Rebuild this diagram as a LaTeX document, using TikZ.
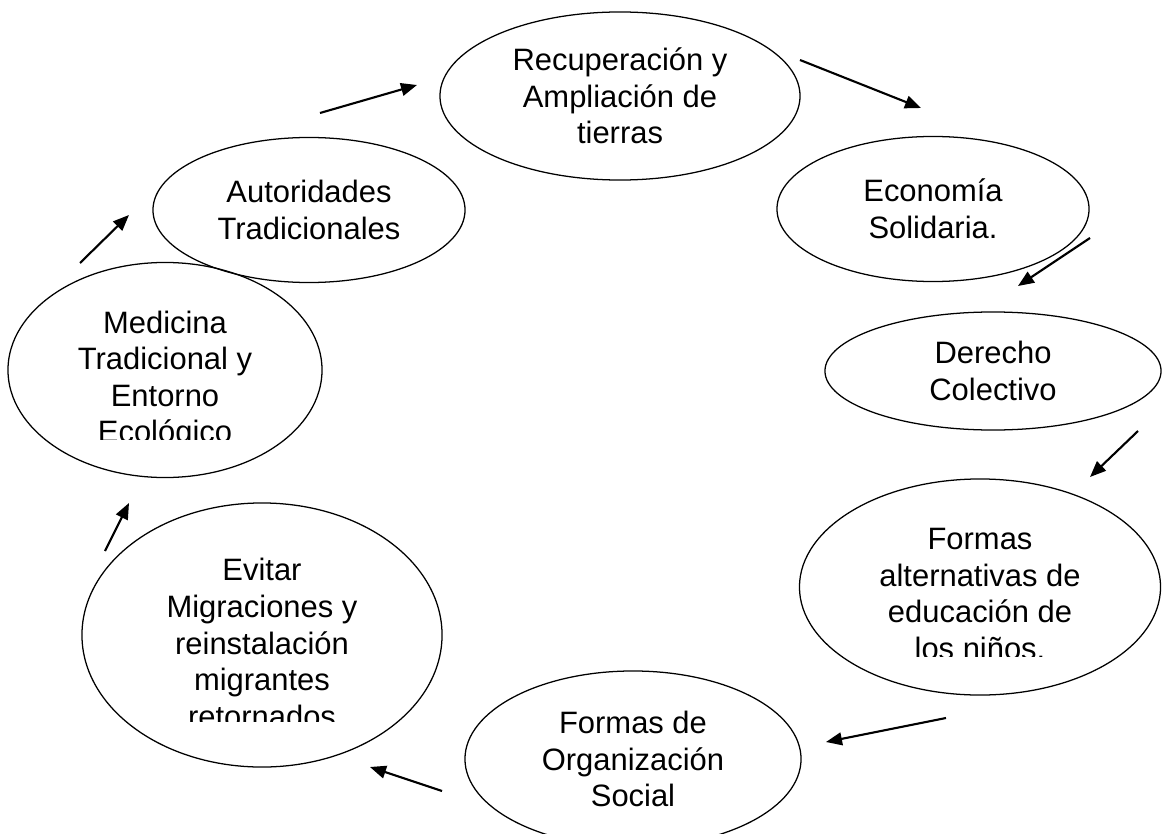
\documentclass[tikz,border=0pt]{standalone}
\usepackage{fontspec}
\setmainfont{Liberation Sans}
\usetikzlibrary{arrows.meta, shapes.geometric, positioning, calc}
\tikzset{
  elip/.style={draw, ellipse, line width=0.9pt, inner sep=0pt, align=center, font=\fontsize{22}{26}\selectfont},
  txt/.style={inner sep=0pt, align=center, font=\fontsize{22}{26}\selectfont},
  flecha/.style={line width=1.5pt, -{Triangle[length=0.4cm,width=0.32cm]}}
}
\begin{document}
\begin{tikzpicture}[x=0.025cm, y=-0.025cm]
			\useasboundingbox (0,0) rectangle (1163,834);
			\node[elip, minimum width=9cm, minimum height=4.2cm] (rec) at (620,96) {Recuperación y\\Ampliación de\\tierras};
			\node[elip, minimum width=7.8cm, minimum height=3.625cm] (eco) at (933,209) {Economía\\Solidaria.};
			\node[elip, minimum width=8.4cm, minimum height=2.95cm] (der) at (993,371) {Derecho\\Colectivo};
			\node[elip, minimum width=9.025cm, minimum height=5.4cm] (alt) at (980,587) {};
			\node[elip, minimum width=8.4cm, minimum height=4.4cm] (org) at (633,759) {Formas de\\Organización\\Social};
			\node[elip, minimum width=9cm, minimum height=6.6cm] (evi) at (262,635) {};
			\node[elip, minimum width=7.85cm, minimum height=5.375cm] (med) at (165,370) {};
			\node[elip, minimum width=7.8cm, minimum height=3.625cm] (aut) at (309,210) {Autoridades\\Tradicionales};
			\begin{scope}
				\clip (820,490) rectangle (1140,656);
				\node[txt] (altt) at (980,594) {Formas\\alternativas de\\educación de\\los niños.};
			\end{scope}
			\begin{scope}
				\clip (100,520) rectangle (420,721);
				\node[txt] (evit) at (262,643) {Evitar\\Migraciones y\\reinstalación\\migrantes\\retornados};
			\end{scope}
			\begin{scope}
				\clip (20,290) rectangle (310,439);
				\node[txt] (medt) at (165,380) {Medicina\\Tradicional y\\Entorno\\Ecológico};
			\end{scope}
			\coordinate (f1a) at (80,263);   \coordinate (f1b) at (129,215);
			\coordinate (f2a) at (320,113);  \coordinate (f2b) at (417,85);
			\coordinate (f3a) at (800,60);   \coordinate (f3b) at (921,108);
			\coordinate (f4a) at (1090,238); \coordinate (f4b) at (1018,286);
			\coordinate (f5a) at (1138,431); \coordinate (f5b) at (1090,477);
			\coordinate (f6a) at (946,718);  \coordinate (f6b) at (826,742);
			\coordinate (f7a) at (442,791);  \coordinate (f7b) at (370,767);
			\coordinate (f8a) at (105,551);  \coordinate (f8b) at (129,503);
			\foreach \i in {1,...,8}
				\draw[flecha] (f\i a) -- (f\i b);
		\end{tikzpicture}
\end{document}
